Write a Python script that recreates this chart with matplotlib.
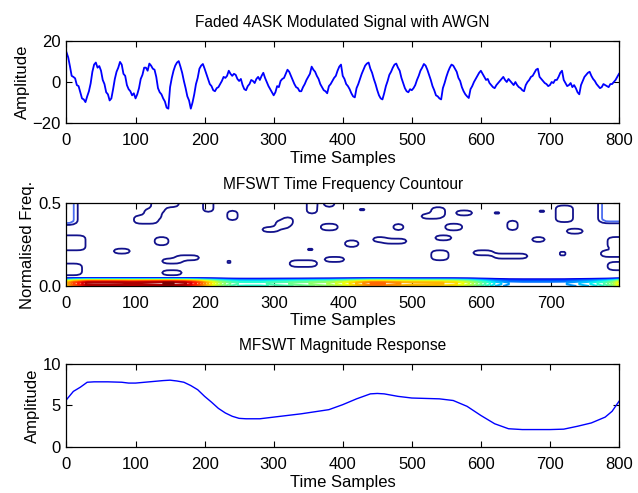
import numpy as np
import matplotlib
matplotlib.use("Agg")
import matplotlib.pyplot as plt

plt.rcParams['font.family'] = ['Liberation Sans', 'DejaVu Sans']
plt.rcParams['font.size'] = 11

# ------------------ Faded 4ASK signal (every 2.5 samples) ------------------
sig_t = np.arange(0, 800.1, 2.5)
sig = [
    14.5, 12.0, 7.7, 3.0, 2.5, 1.8, -1.5, -2.0, -5.0, -8.0, -8.5, -9.8, -7.0, -4.5, -0.7, 5.0, 8.5, 9.5, 7.0, 7.8,
    5.5, 1.0, -1.0, -5.0, -6.0, -9.0, -8.0, -3.5, 1.5, 5.0, 7.0, 9.8, 8.5, 4.0, 3.0, -1.5, -3.5, -4.5, -6.5, -5.5,
    -8.0, -6.0, -3.0, 1.5, 3.5, 7.0, 7.0, 5.5, 9.0, 8.0, 6.5, 6.0, 2.5, -3.0, -5.0, -6.0, -8.0, -9.5, -12.5, -13.0,
    -2.5, 2.0, 5.5, 8.0, 9.5, 10.2, 7.5, 4.5, 0.5, -3.0, -7.0, -9.0, -13.0, -10.0, -6.0, -1.0, 2.0, 6.5, 8.0, 8.8,
    6.5, 4.0, 1.5, -1.0, -2.0, -4.0, -4.5, -3.0, -2.5, -1.0, 0.5, 2.5, 2.0, 3.0, 5.5, 4.0, 3.0, 4.0, 3.5, 1.5,
    0.5, 1.5, -1.5, -3.5, -4.0, -2.0, -1.0, 1.0, 0.5, -0.5, 1.5, 2.5, 1.0, 3.0, 4.5, 2.0, 0.0, -2.0, -3.5, -5.0,
    -6.5, -5.0, -2.0, -2.5, 0.5, 1.5, 2.0, 4.0, 6.0, 5.0, 3.0, 1.0, -1.0, -2.5, -3.0, -4.5, -4.5, -2.5, -1.0, 1.0,
    2.5, 4.0, 7.5, 6.0, 5.0, 3.0, 1.5, -1.0, -2.5, -4.0, -4.5, -5.5, -2.0, -1.0, 0.5, 2.0, 3.0, 5.5, 7.5, 8.5,
    3.0, 1.5, -1.0, -2.0, -3.5, -5.5, -7.0, -7.5, -3.0, -1.0, 1.5, 4.0, 6.0, 8.0, 9.0, 9.5, 6.5, 4.5, 1.5, -1.0,
    -4.0, -6.5, -8.0, -8.5, -5.5, -2.0, 0.5, 3.5, 5.0, 7.0, 8.5, 9.0, 7.0, 5.5, 2.0, -0.5, -3.0, -4.5, -5.0, -3.5,
    -4.0, -3.0, -1.5, 1.0, 3.0, 5.5, 7.0, 8.8, 8.0, 6.0, 3.5, 1.0, -2.0, -4.0, -6.5, -7.0, -8.0, -8.5, -3.0, -0.5,
    2.5, 5.0, 7.0, 8.5, 8.0, 6.5, 5.0, 2.0, 0.5, -2.5, -4.5, -6.0, -7.0, -7.8, -3.5, -2.0, 0.0, 1.5, 3.0, 4.5,
    5.5, 4.0, 2.5, 1.0, 1.5, -0.5, -1.5, -2.5, -3.0, -1.5, -0.5, 0.5, 1.5, 2.5, 1.0, 0.0, 1.5, 0.5, -0.5, -1.5,
    0.0, -1.5, -2.5, -3.0, -4.0, -4.5, -1.5, 0.0, 1.0, 2.5, 3.0, 4.5, 6.0, 6.5, 2.5, 1.5, 0.5, -0.5, -1.0, -2.0,
    -1.5, 0.0, -0.5, 1.0, 1.0, 2.5, 4.5, 5.5, 1.0, -0.5, -2.0, -1.5, -0.5, -2.5, -1.5, -3.0, -5.0, -6.0, -1.5, 0.5,
    2.5, 3.5, 4.5, 5.0, 3.0, 1.5, 0.5, -1.0, -2.0, -3.0, -2.5, -1.0, -1.5, -2.0, -2.5, -1.0, -1.0, 0.0, 1.0, 2.5,
    4.0,
]

# ------------------ MFSWT magnitude response ------------------
mag_t = [0, 10, 20, 30, 40, 60, 80, 90, 100, 120, 140, 150, 160, 170, 180,
         190, 200, 210, 220, 230, 240, 250, 260, 280, 300, 320, 340, 360,
         380, 400, 420, 440, 450, 460, 480, 500, 520, 540, 560, 580, 600,
         620, 640, 660, 700, 720, 740, 760, 780, 790, 800]
mag = [5.7, 6.7, 7.2, 7.8, 7.85, 7.85, 7.8, 7.7, 7.7, 7.85, 8.0, 8.05, 7.95,
       7.8, 7.4, 6.9, 6.1, 5.4, 4.65, 4.1, 3.7, 3.45, 3.4, 3.4, 3.6, 3.8,
       4.0, 4.25, 4.5, 5.1, 5.8, 6.4, 6.45, 6.4, 6.1, 5.9, 5.85, 5.8, 5.6,
       4.9, 3.8, 2.8, 2.2, 2.1, 2.1, 2.15, 2.5, 2.9, 3.6, 4.3, 5.5]

# ------------------ Time-frequency energy patches ------------------
# (t_start, t_end, f_start, f_end, energy)
patches = [
    (0, 12, 0.38, 0.50, 2.0), (0, 25, 0.22, 0.30, 1.0), (0, 20, 0.07, 0.13, 1.0),
    (98, 130, 0.38, 0.42, 1.0), (112, 136, 0.41, 0.46, 1.0), (122, 140, 0.45, 0.50, 1.0),
    (138, 162, 0.48, 0.50, 1.0),
    (73, 81, 0.305, 0.325, 1.0), (126, 148, 0.25, 0.29, 1.0), (68, 90, 0.20, 0.225, 1.0),
    (137, 165, 0.14, 0.165, 1.0), (160, 193, 0.155, 0.185, 1.0), (140, 166, 0.07, 0.095, 1.0),
    (196, 214, 0.45, 0.50, 1.0), (235, 248, 0.40, 0.45, 1.0), (230, 242, 0.135, 0.155, 1.0),
    (282, 308, 0.33, 0.355, 1.0), (303, 320, 0.35, 0.39, 1.0), (312, 328, 0.37, 0.41, 1.0),
    (320, 329, 0.20, 0.215, 1.0),
    (350, 359, 0.21, 0.23, 1.0), (325, 360, 0.12, 0.15, 1.0), (349, 360, 0.44, 0.50, 1.0),
    (374, 385, 0.48, 0.50, 1.0), (369, 391, 0.335, 0.37, 1.0), (375, 403, 0.145, 0.175, 1.0),
    (404, 421, 0.24, 0.27, 1.0), (422, 430, 0.45, 0.47, 1.0), (422, 430, 0.195, 0.215, 1.0),
    (441, 463, 0.27, 0.295, 1.0), (458, 491, 0.255, 0.28, 1.0), (474, 485, 0.335, 0.375, 1.0),
    (514, 540, 0.405, 0.43, 1.0), (530, 548, 0.42, 0.47, 1.0), (549, 574, 0.335, 0.37, 1.0),
    (564, 589, 0.425, 0.455, 1.0), (532, 558, 0.275, 0.30, 1.0), (529, 554, 0.16, 0.21, 1.0),
    (588, 616, 0.185, 0.215, 1.0), (616, 626, 0.43, 0.45, 1.0), (637, 650, 0.34, 0.39, 1.0),
    (617, 643, 0.165, 0.19, 1.0), (638, 668, 0.17, 0.195, 1.0), (675, 694, 0.265, 0.295, 1.0),
    (683, 691, 0.435, 0.465, 1.0), (709, 730, 0.39, 0.48, 1.0), (724, 746, 0.315, 0.34, 1.0),
    (711, 721, 0.175, 0.21, 1.0), (772, 799, 0.39, 0.50, 2.0), (782, 799, 0.225, 0.295, 1.0),
    (775, 799, 0.175, 0.21, 1.0), (781, 799, 0.095, 0.145, 1.0),
]
# low-frequency band shape (relative to magnitude) at f = 0, 0.01, ..., 0.05
band_profile = [0.9, 1.0, 1.0, 0.8, 0.3, 0.0]

# build the TF matrices: scattered patches and low-frequency band
tf_t = np.append(np.arange(0, 800, 5), 799)
tf_f = np.round(np.arange(0, 0.501, 0.01), 3)
Zp = np.zeros((len(tf_f), len(tf_t)))
for t0, t1, f0, f1, e in patches:
    rows = (tf_f >= f0 - 1e-9) & (tf_f <= f1 + 1e-9)
    cols = (tf_t >= t0) & (tf_t <= t1)
    Zp[np.ix_(rows, cols)] = np.maximum(Zp[np.ix_(rows, cols)], e)

# [1 4 6 4 1] smoothing so the patch outlines come out rounded
k = np.array([1, 4, 6, 4, 1]) / 16
P = np.pad(Zp, ((2, 2), (0, 0)), mode='edge')
Zp = sum(k[i] * P[i:i + len(tf_f)] for i in range(5))
P = np.pad(Zp, ((0, 0), (2, 2)), mode='edge')
Zp = sum(k[i] * P[:, i:i + len(tf_t)] for i in range(5))

band = np.interp(tf_t, mag_t, mag)
Zb = np.zeros_like(Zp)
for i, p in enumerate(band_profile):
    Zb[i] = p * band

band_levels = np.linspace(0.6, 8.0, 24)

fig = plt.figure(figsize=(6.38, 4.93), dpi=100)
left, width = 0.1042, 0.866


def style(ax):
    ax.tick_params(direction='in', top=True, right=True, length=4, width=0.8,
                   labelsize=12, pad=7)
    for s in ax.spines.values():
        s.set_linewidth(0.9)


# ------------------ Modulated signal ------------------
ax1 = fig.add_axes([left, 0.7505, width, 0.1663])
ax1.plot(sig_t, sig, color='blue', linewidth=1.3)
ax1.set_xlim(0, 800)
ax1.set_ylim(-20, 20)
ax1.set_yticks([-20, 0, 20])
ax1.set_xticks(range(0, 801, 100))
ax1.set_title("Faded 4ASK Modulated Signal with AWGN", fontsize=11.2, pad=10)
ax1.set_xlabel("Time Samples", fontsize=12, labelpad=2)
ax1.set_ylabel("Amplitude", fontsize=12, labelpad=2)
style(ax1)
ax1.tick_params(axis='y', pad=4)

# ------------------ Time frequency contour ------------------
ax2 = fig.add_axes([left, 0.4199, width, 0.1684])
ax2.contour(tf_t, tf_f, Zb, levels=band_levels, cmap='jet', vmin=0.0, vmax=8.0,
            linewidths=1.4)
ax2.contour(tf_t, tf_f, Zp, levels=[0.5, 1.3], colors=['#12128c', '#4a6cf0'],
            linewidths=1.3)
ax2.set_xlim(0, 799)
ax2.set_ylim(0, 0.5)
ax2.set_yticks([0, 0.5])
ax2.set_xticks(range(0, 701, 100))
ax2.set_title("MFSWT Time Frequency Countour", fontsize=11.2, pad=10)
ax2.set_xlabel("Time Samples", fontsize=12, labelpad=2)
ax2.set_ylabel("Normalised Freq.", fontsize=12, labelpad=2)
style(ax2)
ax2.tick_params(axis='y', pad=4)

# ------------------ Magnitude response ------------------
ax3 = fig.add_axes([left, 0.0933, width, 0.1684])
ax3.plot(mag_t, mag, color='blue', linewidth=1.0)
ax3.set_xlim(0, 800)
ax3.set_ylim(0, 10)
ax3.set_yticks([0, 5, 10])
ax3.set_xticks(range(0, 801, 100))
ax3.set_title("MFSWT Magnitude Response", fontsize=11.2, pad=10)
ax3.set_xlabel("Time Samples", fontsize=12, labelpad=2)
ax3.set_ylabel("Amplitude", fontsize=12, labelpad=2)
style(ax3)
ax3.tick_params(axis='y', pad=4)

plt.savefig("out.png", dpi=100)
plt.close()
